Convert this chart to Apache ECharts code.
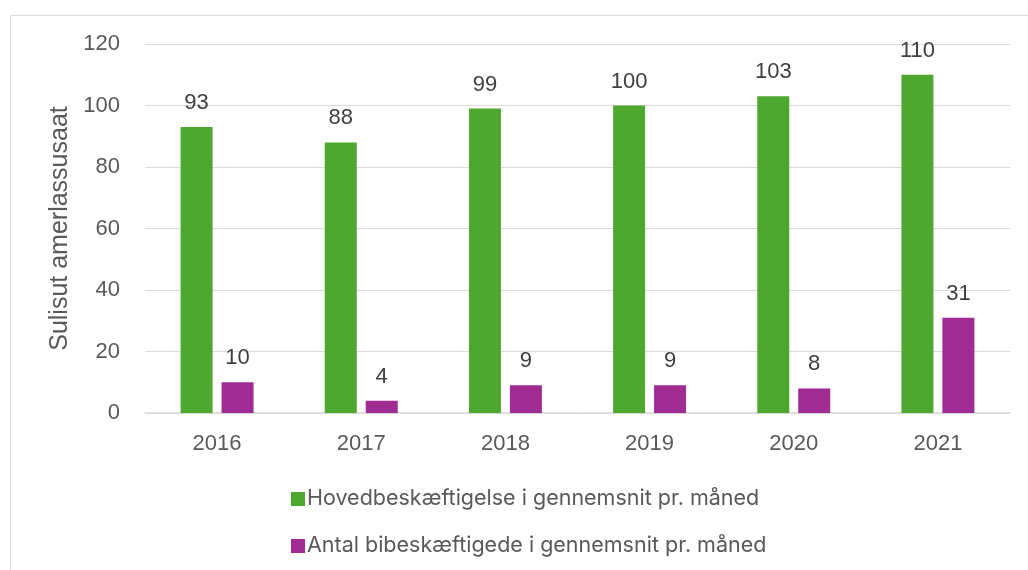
<!DOCTYPE html>
<html><head><meta charset="utf-8">
<script src="https://cdn.jsdelivr.net/npm/echarts@6/dist/echarts.min.js"></script>
<style>html,body{margin:0;padding:0;background:#fff}#c{width:1028px;height:570px}</style>
</head><body><div id="c"></div>
<script>
const categories = ['2016','2017','2018','2019','2020','2021'];
const mainEmployment = [93, 88, 99, 100, 103, 110];
const sideEmployment = [10, 4, 9, 9, 8, 31];
const seriesNames = ['Hovedbeskæftigelse i gennemsnit pr. måned', 'Antal bibeskæftigede i gennemsnit pr. måned'];
const yTitle = 'Sulisut amerlassusaat';

const chart = echarts.init(document.getElementById('c'), null, {renderer:'canvas'});
const lbl = {show:true, position:'top', distance:13, color:'#404040', fontSize:22, fontFamily:'Liberation Sans'};
chart.setOption({
  animation:false,
  graphic:[{type:'rect', shape:{x:10.5,y:15.5,width:1030,height:600}, style:{fill:'none', stroke:'#d9d9d9', lineWidth:1}}],
  grid:{left:145, right:18, top:44, bottom:157, containLabel:false},
  legend:{orient:'vertical', left:286, top:483, itemWidth:14, itemHeight:14, itemGap:25, icon:'rect',
    textStyle:{color:'#595959', fontSize:21.5, fontFamily:'Inter', padding:[0,0,0,-3]},
    data:seriesNames},
  xAxis:{type:'category', data:categories,
    axisLine:{lineStyle:{color:'#d9d9d9', width:1.5}}, axisTick:{show:false},
    axisLabel:{color:'#595959', fontSize:22, fontFamily:'Liberation Sans', margin:20}},
  yAxis:{type:'value', min:0, max:120, interval:20,
    name:yTitle, nameLocation:'middle', nameGap:72, nameTextStyle:{color:'#595959', fontSize:25, fontFamily:'Liberation Sans'},
    axisLabel:{color:'#595959', fontSize:22, fontFamily:'Liberation Sans', margin:25},
    splitLine:{lineStyle:{color:'#d9d9d9', width:1}}, axisLine:{show:false}, axisTick:{show:false}},
  series:[
    {name:seriesNames[0], type:'bar', data:mainEmployment, barWidth:32, barGap:'28%', itemStyle:{color:'#4ea72e'}, label:lbl},
    {name:seriesNames[1], type:'bar', data:sideEmployment, barWidth:32, itemStyle:{color:'#a02b93'}, label:lbl}
  ]
});
</script></body></html>
